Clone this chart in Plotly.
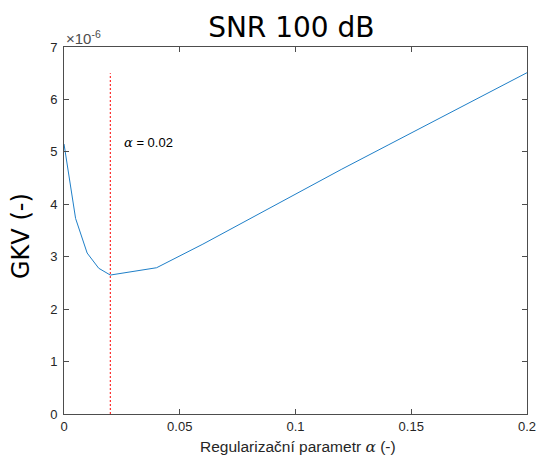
import plotly.graph_objects as go

# Regularization parameter alpha and the corresponding GKV criterion value (x1e-6)
alpha = [0.0, 0.005, 0.01, 0.015, 0.02, 0.04, 0.06, 0.08, 0.10, 0.12, 0.14, 0.16, 0.18, 0.20]
gkv_e6 = [5.15, 3.73, 3.07, 2.78, 2.65, 2.79, 3.24, 3.72, 4.20, 4.67, 5.13, 5.59, 6.05, 6.51]
scale = 1e-6
gkv = [v * scale for v in gkv_e6]

alpha_opt = 0.02
marker_top_e6 = 6.5

x_ticks = [0, 0.05, 0.1, 0.15, 0.2]
x_ticktext = ["0", "0.05", "0.1", "0.15", "0.2"]
y_ticks_e6 = [0, 1, 2, 3, 4, 5, 6, 7]

axis_color = "#4d4d4d"
sans = "Liberation Sans, Arial, sans-serif"
tick_font = dict(family=sans, size=13, color="#262626")
greek_alpha = '<i><span style="font-family:DejaVu Serif">α</span></i>'

fig = go.Figure()
fig.add_trace(go.Scatter(
    x=alpha, y=gkv, mode="lines",
    line=dict(color="#1f7fc8", width=1),
    showlegend=False,
))
fig.add_trace(go.Scatter(
    x=[alpha_opt, alpha_opt], y=[0, marker_top_e6 * scale], mode="lines",
    line=dict(color="#ff0000", width=1, dash="2px,2px"),
    showlegend=False,
))

# label of the chosen alpha
fig.add_annotation(
    x=alpha_opt + 0.005, y=5.17 * scale, xref="x", yref="y",
    text=f"{greek_alpha} = 0.02",
    showarrow=False, xanchor="left", yanchor="middle",
    font=dict(family=sans, size=13, color="#000000"),
)
# exponent of the y axis
fig.add_annotation(
    x=0, y=1, xref="paper", yref="paper",
    text="×10<sup>-6</sup>", showarrow=False,
    xanchor="left", yanchor="bottom", yshift=-2,
    font=dict(family=sans, size=15, color="#4d4d4d"),
)
# axis titles
fig.add_annotation(
    x=0, y=0.485, xref="paper", yref="paper", xshift=-43,
    text="GKV (-)", textangle=-90, showarrow=False,
    xanchor="center", yanchor="middle",
    font=dict(family="DejaVu Sans, sans-serif", size=24, color="#000000"),
)
fig.add_annotation(
    x=0.505, y=0, xref="paper", yref="paper", yshift=-33,
    text=f"Regularizační parametr {greek_alpha} (-)", showarrow=False,
    xanchor="center", yanchor="middle",
    font=dict(family=sans, size=15.5, color="#262626"),
)

fig.update_layout(
    width=538, height=459,
    margin=dict(l=64, r=11, t=47, b=45),
    paper_bgcolor="white", plot_bgcolor="white",
    title=dict(
        text="SNR 100 dB", xref="paper", x=0.491, xanchor="center",
        yref="container", y=0.941, yanchor="middle",
        font=dict(family="DejaVu Sans, sans-serif", size=28, color="#000000"),
    ),
    xaxis=dict(
        range=[0, 0.2], tickvals=x_ticks, ticktext=x_ticktext, automargin=False,
        showgrid=False, zeroline=False, showline=True, linecolor=axis_color, linewidth=1,
        mirror="ticks", ticks="inside", ticklen=5, tickcolor=axis_color,
        tickfont=tick_font,
    ),
    yaxis=dict(
        range=[0, 7 * scale], tickvals=[v * scale for v in y_ticks_e6],
        ticktext=[str(v) for v in y_ticks_e6], automargin=False,
        showgrid=False, zeroline=False, showline=True, linecolor=axis_color, linewidth=1,
        mirror="ticks", ticks="inside", ticklen=5, tickcolor=axis_color,
        tickfont=tick_font, ticklabelstandoff=3,
    ),
)

fig.write_html("out.html")
